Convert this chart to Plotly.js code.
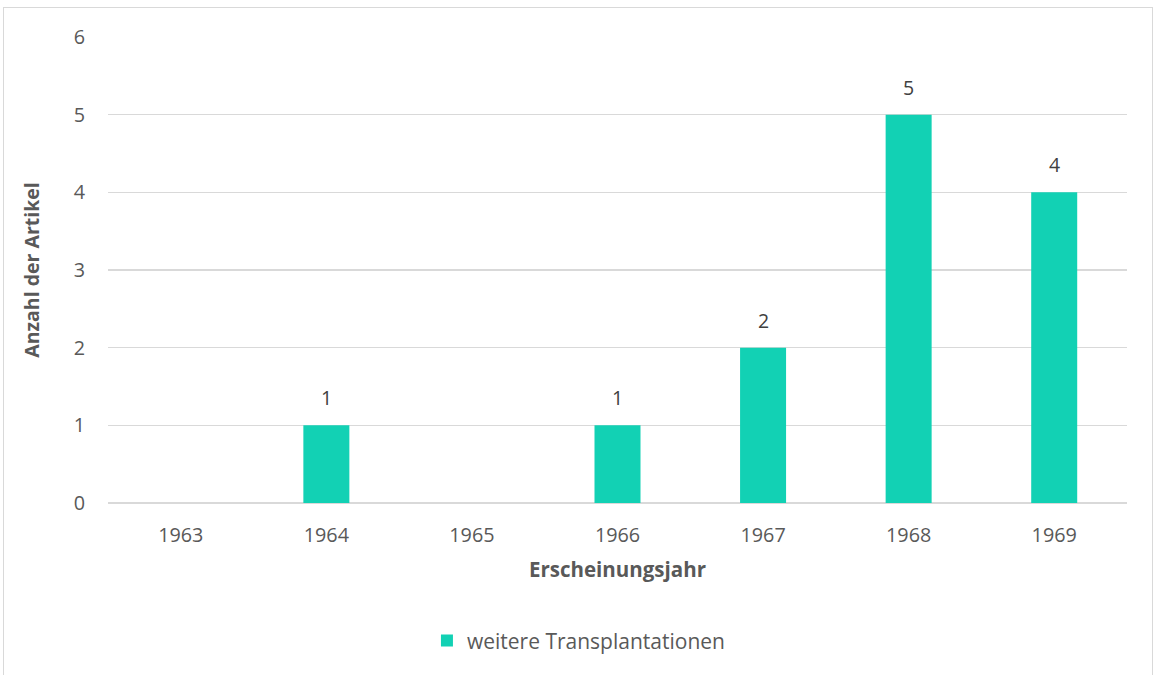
<!DOCTYPE html>
<html>
<head>
<meta charset="utf-8">
<script src="https://cdn.plot.ly/plotly-3.0.1.min.js"></script>
<style>
html,body{margin:0;padding:0;background:#fff;overflow:hidden;}
#frame{position:absolute;left:3px;top:7px;width:1150px;height:720px;border:1.5px solid #d9d9d9;box-sizing:border-box;}
#chart{position:absolute;left:0;top:0;width:1156px;height:675px;}
</style>
</head>
<body>
<div id="frame"></div>
<div id="chart"></div>
<script>
const years = ['1963','1964','1965','1966','1967','1968','1969'];
const counts = [0, 1, 0, 1, 2, 5, 4];
const labels = ['', '1', '', '1', '2', '5', '4'];
const seriesName = 'weitere Transplantationen';
const yTicks = [0,1,2,3,4,5,6];

const trace = {
  type: 'bar',
  x: years,
  y: counts,
  name: seriesName,
  marker: {color: '#12D1B4'},
  hoverinfo: 'skip'
};

const annotations = [];
years.forEach((yr, i) => {
  if (labels[i] === '') return;
  annotations.push({
    x: i, y: counts[i], xref: 'x', yref: 'y',
    text: labels[i], showarrow: false,
    yanchor: 'bottom', yshift: 12,
    font: {family: 'Open Sans, sans-serif', size: 19.5, color: '#404040'}
  });
});

const layout = {
  width: 1156, height: 675,
  paper_bgcolor: 'rgba(0,0,0,0)',
  plot_bgcolor: 'rgba(0,0,0,0)',
  margin: {l: 108, r: 29, t: 37, b: 172},
  bargap: 0.684,
  showlegend: true,
  font: {family: 'Open Sans, sans-serif', color: '#595959', size: 19.5},
  annotations: annotations,
  xaxis: {
    type: 'category',
    range: [-0.5, years.length - 0.5],
    showgrid: false,
    showline: false,
    ticks: '',
    ticklabelstandoff: 18,
    tickfont: {size: 19.8, color: '#595959'},
    title: {text: '<b>Erscheinungsjahr</b>', font: {size: 20.5, color: '#595959'}, standoff: 15}
  },
  yaxis: {
    range: [0, 6],
    tickvals: yTicks,
    showgrid: true,
    gridcolor: '#d9d9d9',
    gridwidth: 1.3,
    zeroline: true,
    zerolinecolor: '#d9d9d9',
    zerolinewidth: 1.3,
    ticks: '',
    ticklabelstandoff: 22,
    tickfont: {size: 19.8, color: '#595959'},
    title: {text: '<b>Anzahl der Artikel</b>', font: {size: 19.5, color: '#595959'}, standoff: 28}
  },
  legend: {
    orientation: 'h',
    x: 0.313, xanchor: 'left',
    y: -0.296, yanchor: 'middle',
    font: {size: 21, color: '#595959'},
    itemwidth: 30
  }
};

Plotly.newPlot('chart', [trace], layout, {displayModeBar: false, staticPlot: true});
</script>
</body>
</html>
